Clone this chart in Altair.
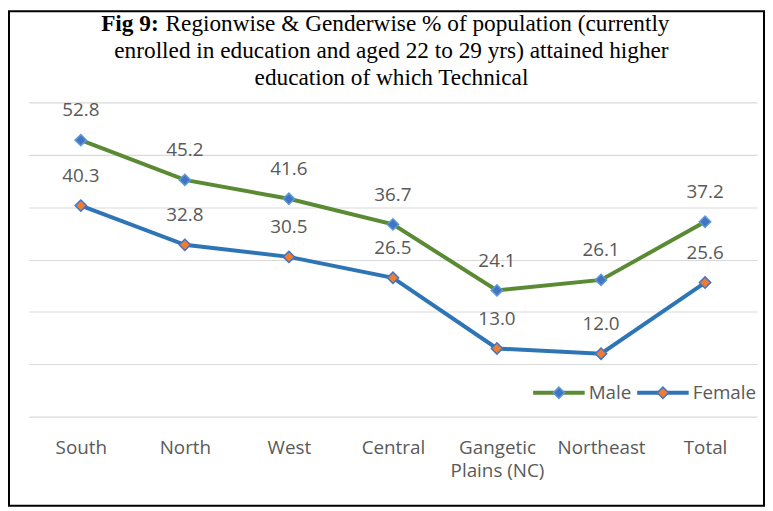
import altair as alt
import pandas as pd

# ---- data ----
regions = ["South", "North", "West", "Central", "Gangetic Plains (NC)", "Northeast", "Total"]
male = [52.8, 45.2, 41.6, 36.7, 24.1, 26.1, 37.2]
female = [40.3, 32.8, 30.5, 26.5, 13.0, 12.0, 25.6]
series = ["Male", "Female"]
y_ticks = [0, 10, 20, 30, 40, 50, 60]

title_bold = "Fig 9:"
title_line1 = "Regionwise & Genderwise % of population (currently"
title_line2 = "enrolled in education and aged 22 to 29 yrs) attained higher"
title_line3 = "education of which Technical"

# ---- styling ----
GREEN = "#5B8A34"
BLUE = "#2E75B6"
M_FILL = "#4472C4"
M_STROKE = "#5B9BD5"
F_FILL = "#ED7D31"
F_STROKE = "#4472C4"
GRAY_TXT = "#595959"
GRID = "#D9D9D9"
LBL_FONT = "Open Sans"
TTL_FONT = "Liberation Serif"
TTL_SIZE = 23.5

df = pd.DataFrame({
    "region": regions * 2,
    "series": [series[0]] * len(regions) + [series[1]] * len(regions),
    "value": male + female,
})

x_enc = alt.X(
    "region:N", sort=regions,
    scale=alt.Scale(type="point", padding=0.5),
    axis=alt.Axis(
        title=None, labelAngle=0, ticks=False, domain=False, grid=False,
        labelColor=GRAY_TXT, labelFont=LBL_FONT, labelFontSize=19,
        labelPadding=22, labelLineHeight=24,
        labelExpr="datum.label == 'Gangetic Plains (NC)' ? ['Gangetic', 'Plains (NC)'] : datum.label",
    ),
)
y_enc = alt.Y(
    "value:Q",
    scale=alt.Scale(domain=[0, 60], nice=False, zero=True),
    axis=alt.Axis(title=None, labels=False, ticks=False, domain=False,
                  grid=True, gridColor=GRID, gridWidth=1.2, values=y_ticks),
)

base = alt.Chart(df)

lines = base.mark_line(strokeWidth=4).encode(
    x=x_enc, y=y_enc,
    color=alt.Color("series:N", scale=alt.Scale(domain=series, range=[GREEN, BLUE]), legend=None),
)

points = base.mark_point(shape="diamond", filled=True, size=130, strokeWidth=1.5, opacity=1).encode(
    x=x_enc, y=y_enc,
    fill=alt.Fill("series:N", scale=alt.Scale(domain=series, range=[M_FILL, F_FILL]), legend=None),
    stroke=alt.Stroke("series:N", scale=alt.Scale(domain=series, range=[M_STROKE, F_STROKE]), legend=None),
)

labels = base.mark_text(dy=-30, font=LBL_FONT, fontSize=19, color=GRAY_TXT).encode(
    x=x_enc, y=y_enc,
    text=alt.Text("value:Q", format=".1f"),
)

# ---- manual legend ----
def legend_item(name, x0, line_color, fill, stroke):
    d = alt.Chart(pd.DataFrame({"series": [name]}))
    seg = d.mark_rule(strokeWidth=4, color=line_color).encode(
        x=alt.value(x0), x2=alt.value(x0 + 52), y=alt.value(293))
    sym = d.mark_point(shape="diamond", filled=True, size=130, strokeWidth=1.5,
                       fill=fill, stroke=stroke, opacity=1).encode(
        x=alt.value(x0 + 26), y=alt.value(293))
    txt = d.mark_text(align="left", baseline="middle", font=LBL_FONT, fontSize=19,
                      color=GRAY_TXT).encode(
        x=alt.value(x0 + 56), y=alt.value(293), text="series:N")
    return [seg, sym, txt]

legend_layers = legend_item(series[0], 509, GREEN, M_FILL, M_STROKE) + \
                legend_item(series[1], 614, BLUE, F_FILL, F_STROKE)

# ---- title as text marks (bold prefix + regular text) ----
one = pd.DataFrame({"k": [0]})
t_bold = alt.Chart(pd.DataFrame({"t": [title_bold]})).mark_text(
    align="left", baseline="alphabetic", font=TTL_FONT, fontSize=TTL_SIZE, fontWeight="bold", color="black"
).encode(x=alt.value(73), y=alt.value(-72), text="t:N")
t_l1 = alt.Chart(pd.DataFrame({"t": [title_line1]})).mark_text(
    align="left", baseline="alphabetic", font=TTL_FONT, fontSize=TTL_SIZE, color="black"
).encode(x=alt.value(138), y=alt.value(-72), text="t:N")
t_l2 = alt.Chart(pd.DataFrame({"t": [title_line2]})).mark_text(
    align="center", baseline="alphabetic", font=TTL_FONT, fontSize=TTL_SIZE, color="black"
).encode(x=alt.value(366), y=alt.value(-45), text="t:N")
t_l3 = alt.Chart(pd.DataFrame({"t": [title_line3]})).mark_text(
    align="center", baseline="alphabetic", font=TTL_FONT, fontSize=TTL_SIZE, color="black"
).encode(x=alt.value(366), y=alt.value(-18), text="t:N")

frame = alt.Chart(one).mark_rect(fillOpacity=0, stroke="black", strokeWidth=2).encode(
    x=alt.value(-20), x2=alt.value(742), y=alt.value(-92), y2=alt.value(407))

chart = alt.layer(
    frame, lines, points, labels, *legend_layers, t_bold, t_l1, t_l2, t_l3
).properties(
    width=735, height=317,
    autosize=alt.AutoSizeParams(type="none"),
    padding={"left": 21, "top": 93, "right": 8, "bottom": 92},
    background="white",
).configure_view(stroke=None)

chart.save("out.html", embed_options={"renderer": "svg", "actions": False})
